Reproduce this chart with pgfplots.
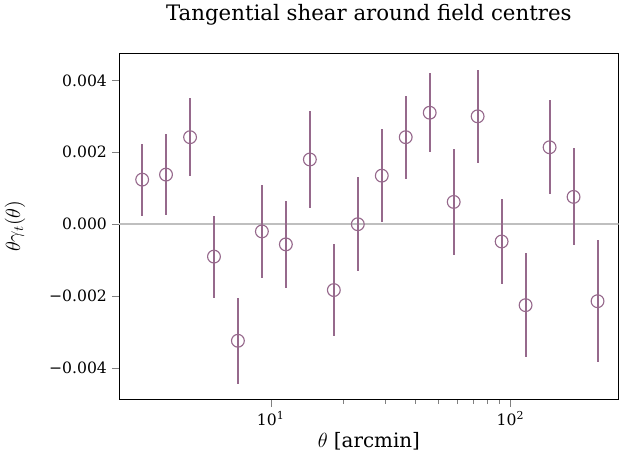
\documentclass[border=0pt]{standalone}
\usepackage{pgfplots}
\pgfplotsset{compat=1.18}
\usepackage{fontspec}
\setmainfont{DejaVu Serif}
\definecolor{pc}{RGB}{150,105,140}
\begin{document}
\begin{tikzpicture}
\begin{axis}[
  scale only axis, width=352pt, height=244pt,
  xmode=log, xmin=2.33, xmax=283,
  ymin=-0.00487, ymax=0.00476,
  scaled y ticks=false,
  ytick={-0.004,-0.002,0,0.002,0.004},
  yticklabels={−0.004,−0.002,0.000,0.002,0.004},
  xtick={10,100}, xticklabels={10\textsuperscript{1},10\textsuperscript{2}},
  tick label style={font=\fontsize{11}{13}\selectfont},
  tick align=outside, tick pos=left,
  major tick length=5pt, minor tick length=3pt,
  xlabel={$\theta$ [arcmin]}, ylabel={$\theta\gamma_t(\theta)$},
  label style={font=\fontsize{14}{16}\selectfont},
  xlabel style={yshift=2pt},
  ylabel style={yshift=10pt},
  title={Tangential shear around field centres},
  title style={font=\fontsize{15}{18}\selectfont, at={(0.5,1.04)}, anchor=south},
]
\addplot[gray!50, line width=1.2pt, forget plot] coordinates {(2.33,0) (283,0)};
\addplot[pc, only marks, mark=o, mark size=4.5pt, line width=0.8pt,
  mark options={fill=none, draw=pc},
  error bars/.cd, y dir=both, y explicit, error mark=none,
  error bar style={line width=1.4pt, pc}]
coordinates {
(2.91,0.00124) +- (0,0.0010)
(3.66,0.00138) +- (0,0.00113)
(4.61,0.00242) +- (0,0.00108)
(5.80,-0.00090) +- (0,0.00114)
(7.30,-0.00324) +- (0,0.0012)
(9.19,-0.00020) +- (0,0.0013)
(11.57,-0.00056) +- (0,0.0012)
(14.57,0.00180) +- (0,0.00134)
(18.34,-0.00183) +- (0,0.00127)
(23.09,0.00000) +- (0,0.0013)
(29.07,0.00135) +- (0,0.0013)
(36.59,0.00242) +- (0,0.00115)
(46.07,0.00310) +- (0,0.0011)
(58.0,0.00062) +- (0,0.00148)
(73.0,0.00300) +- (0,0.0013)
(91.9,-0.00048) +- (0,0.00118)
(115.7,-0.00225) +- (0,0.00144)
(145.7,0.00214) +- (0,0.0013)
(183.4,0.00076) +- (0,0.00135)
(230.9,-0.00214) +- (0,0.0017)
};
\end{axis}
\end{tikzpicture}
\end{document}
